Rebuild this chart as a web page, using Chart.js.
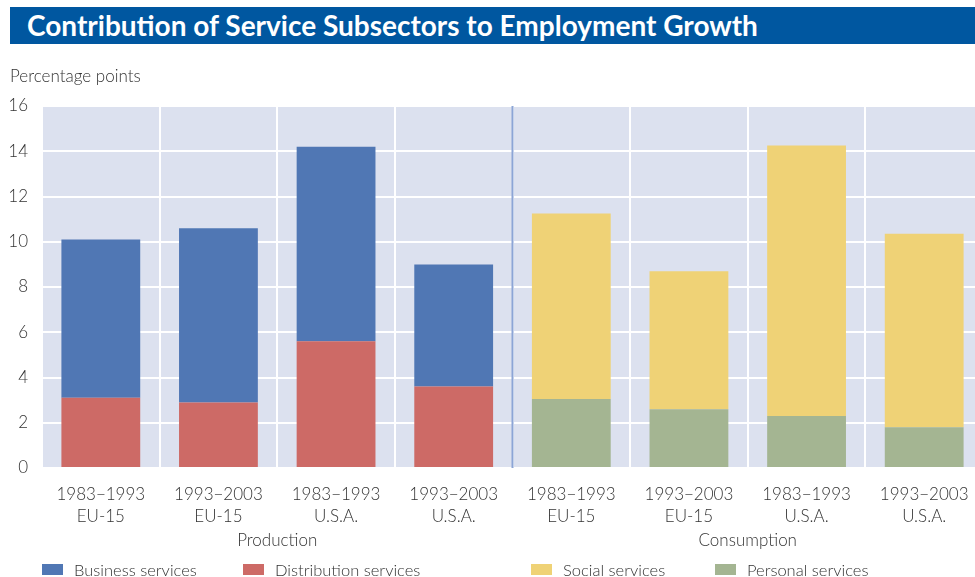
<!DOCTYPE html>
<html>
<head>
<meta charset="utf-8">
<script src="https://cdn.jsdelivr.net/npm/chart.js@4.4.1/dist/chart.umd.min.js"></script>
<style>
  html, body { margin: 0; padding: 0; background: #ffffff; overflow: hidden; }
  body { width: 975px; height: 577px; position: relative; font-family: Lato, "Open Sans", sans-serif; color: #333333; }
  #titlebar {
    position: absolute; left: 10px; top: 7px; width: 980px; height: 37px;
    background: #0057a0; color: #ffffff;
    font: 700 28px Lato, "Open Sans", sans-serif; line-height: 37px;
    padding-left: 17px; box-sizing: border-box; white-space: nowrap;
  }
  #unit { position: absolute; left: 10px; top: 65px; font: 300 17px Lato, sans-serif; color: #333333; }
  #wrap { position: absolute; left: 0; top: 0; width: 990px; height: 577px; }
  .leg { position: absolute; top: 561px; font: 300 16.5px Lato, sans-serif; color: #333333; white-space: nowrap; line-height: 18px; }
  .leg i { position: absolute; left: 0; top: 3px; width: 21px; height: 11px; }
  .leg span { position: absolute; top: 0; }
</style>
</head>
<body>
<div id="wrap"><canvas id="chart" width="990" height="577"></canvas></div>
<div id="titlebar">Contribution of Service Subsectors to Employment Growth</div>
<div id="unit">Percentage points</div>
<div id="legend"></div>
<script>
// Period / region labels for each bar (two text lines each)
const categories = [
  ["1983−1993", "EU-15"], ["1993−2003", "EU-15"], ["1983−1993", "U.S.A."], ["1993−2003", "U.S.A."],
  ["1983−1993", "EU-15"], ["1993−2003", "EU-15"], ["1983−1993", "U.S.A."], ["1993−2003", "U.S.A."]
];
// Sector groups spanning four bars each
const groups = ["Production", "Consumption"];
// Contributions in percentage points (null where a subsector belongs to the other group)
const distribution = [3.1, 2.9, 5.6, 3.6, null, null, null, null];
const business     = [7.0, 7.7, 8.6, 5.4, null, null, null, null];
const personal     = [null, null, null, null, 3.05, 2.6, 2.3, 1.8];
const social       = [null, null, null, null, 8.2, 6.1, 11.95, 8.55];
const yTicks = [0, 2, 4, 6, 8, 10, 12, 14, 16];

const seriesNames = ["Business services", "Distribution services", "Social services", "Personal services"];
const colors = {
  business: "#5077b4", distribution: "#cd6a66", social: "#efd276", personal: "#a4b592"
};

// HTML legend with fixed slots
const legendSlots = [
  { name: seriesNames[0], color: colors.business, x: 42 },
  { name: seriesNames[1], color: colors.distribution, x: 243 },
  { name: seriesNames[2], color: colors.social, x: 531 },
  { name: seriesNames[3], color: colors.personal, x: 715 }
];
const legendEl = document.getElementById("legend");
legendSlots.forEach(s => {
  const d = document.createElement("div");
  d.className = "leg";
  d.style.left = s.x + "px";
  d.innerHTML = '<i style="background:' + s.color + '"></i><span style="left:32px">' + s.name + '</span>';
  legendEl.appendChild(d);
});

const font = { family: "Lato, 'Open Sans', sans-serif", weight: 300 };

// Plot background, group divider and group captions
const decor = {
  id: "decor",
  beforeDraw(chart) {
    const { ctx, chartArea: a } = chart;
    ctx.save();
    ctx.fillStyle = "#dce1ef";
    ctx.fillRect(a.left, a.top, a.right - a.left, a.bottom - a.top);
    ctx.restore();
  },
  afterDatasetsDraw(chart) {
    const { ctx, chartArea: a, scales: { x } } = chart;
    const mid = (x.getPixelForValue(3) + x.getPixelForValue(4)) / 2;
    ctx.save();
    ctx.strokeStyle = "#8ca5d6";
    ctx.lineWidth = 2;
    ctx.beginPath();
    ctx.moveTo(mid, a.top);
    ctx.lineTo(mid, a.bottom);
    ctx.stroke();
    ctx.fillStyle = "#333333";
    ctx.font = "300 17px Lato, 'Open Sans', sans-serif";
    ctx.textAlign = "center";
    ctx.textBaseline = "middle";
    const step = x.getPixelForValue(1) - x.getPixelForValue(0);
    const left0 = x.getPixelForValue(0) - step / 2;
    ctx.fillText(groups[0], left0 + step * 2, 541);
    ctx.fillText(groups[1], left0 + step * 6, 541);
    ctx.restore();
  }
};

new Chart(document.getElementById("chart"), {
  type: "bar",
  data: {
    labels: categories,
    datasets: [
      { label: seriesNames[1], data: distribution, backgroundColor: colors.distribution, stack: "s" },
      { label: seriesNames[0], data: business, backgroundColor: colors.business, stack: "s" },
      { label: seriesNames[3], data: personal, backgroundColor: colors.personal, stack: "s" },
      { label: seriesNames[2], data: social, backgroundColor: colors.social, stack: "s" }
    ]
  },
  options: {
    responsive: false,
    animation: false,
    layout: { padding: { top: 106, right: 7, bottom: 0, left: 0 } },
    datasets: { bar: { barPercentage: 0.67, categoryPercentage: 1, borderWidth: 0 } },
    plugins: { legend: { display: false }, tooltip: { enabled: false } },
    scales: {
      x: {
        stacked: true,
        grid: { color: "#ffffff", lineWidth: 2, drawTicks: false, offset: true },
        border: { display: false },
        ticks: { color: "#333333", font: { ...font, size: 17, lineHeight: 1.3 }, padding: 15, maxRotation: 0, autoSkip: false },
        afterFit(s) { s.height = 109; }
      },
      y: {
        stacked: true,
        min: 0, max: 16,
        afterBuildTicks(s) { s.ticks = yTicks.map(v => ({ value: v })); },
        grid: { color: "#ffffff", lineWidth: 2, drawTicks: false },
        border: { display: false },
        ticks: { color: "#333333", font: { ...font, size: 17 }, padding: 14 },
        afterFit(s) { s.width = 42; }
      }
    }
  },
  plugins: [decor]
});
</script>
</body>
</html>
